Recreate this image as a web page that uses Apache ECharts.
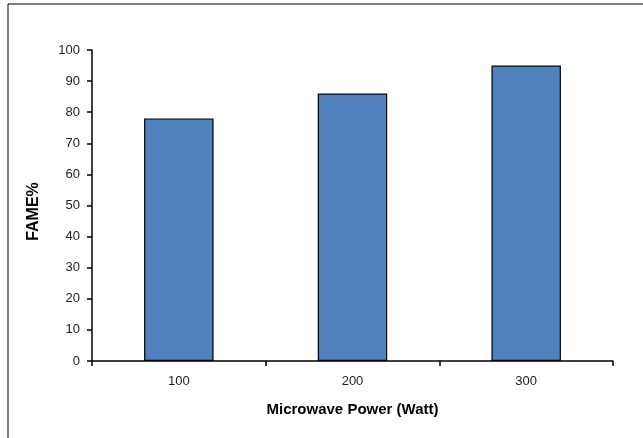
<!DOCTYPE html>
<html>
<head>
<meta charset="utf-8">
<script src="https://cdn.jsdelivr.net/npm/echarts@6/dist/echarts.min.js"></script>
<style>html,body{margin:0;padding:0;background:#fff}#c{width:643px;height:438px}</style>
</head>
<body>
<div id="c"></div>
<script>
const categories = ['100', '200', '300'];
const fameValues = [78, 86, 95];
const yTicks = { min: 0, max: 100, interval: 10 };

const chart = echarts.init(document.getElementById('c'), null, { renderer: 'canvas' });
chart.setOption({
  animation: false,
  backgroundColor: '#ffffff',
  graphic: [
    { type: 'line', shape: { x1: 8, y1: 4, x2: 643, y2: 4 }, style: { stroke: '#000', lineWidth: 1 } },
    { type: 'line', shape: { x1: 8, y1: 4, x2: 8, y2: 438 }, style: { stroke: '#000', lineWidth: 1 } }
  ],
  grid: { left: 92, right: 30, top: 50, bottom: 77 },
  xAxis: {
    type: 'category',
    data: categories,
    name: 'Microwave Power (Watt)',
    nameLocation: 'middle',
    nameGap: 41,
    nameTextStyle: { fontFamily: 'Liberation Sans', fontWeight: 'bold', fontSize: 15, color: '#000' },
    axisLine: { lineStyle: { color: '#000', width: 1.5 } },
    axisTick: { show: true, alignWithLabel: false, length: 5, lineStyle: { color: '#000', width: 1.5 } },
    axisLabel: { fontFamily: 'Liberation Sans', fontSize: 13, color: '#222', margin: 14 },
    splitLine: { show: false }
  },
  yAxis: {
    type: 'value',
    min: yTicks.min, max: yTicks.max, interval: yTicks.interval,
    name: 'FAME%',
    nameLocation: 'middle',
    nameGap: 50,
    nameTextStyle: { fontFamily: 'Liberation Sans', fontWeight: 'bold', fontSize: 16, color: '#000', padding: [0, 12, 0, 0] },
    axisLine: { show: true, lineStyle: { color: '#000', width: 1.5 } },
    axisTick: { show: true, length: 5, lineStyle: { color: '#000', width: 1.5 } },
    axisLabel: { fontFamily: 'Liberation Sans', fontSize: 13, color: '#222', margin: 12 },
    splitLine: { show: false }
  },
  series: [{
    type: 'bar',
    data: fameValues,
    barWidth: '40%',
    itemStyle: { color: '#4F81BD', borderColor: '#000', borderWidth: 1.2 }
  }]
});
</script>
</body>
</html>
